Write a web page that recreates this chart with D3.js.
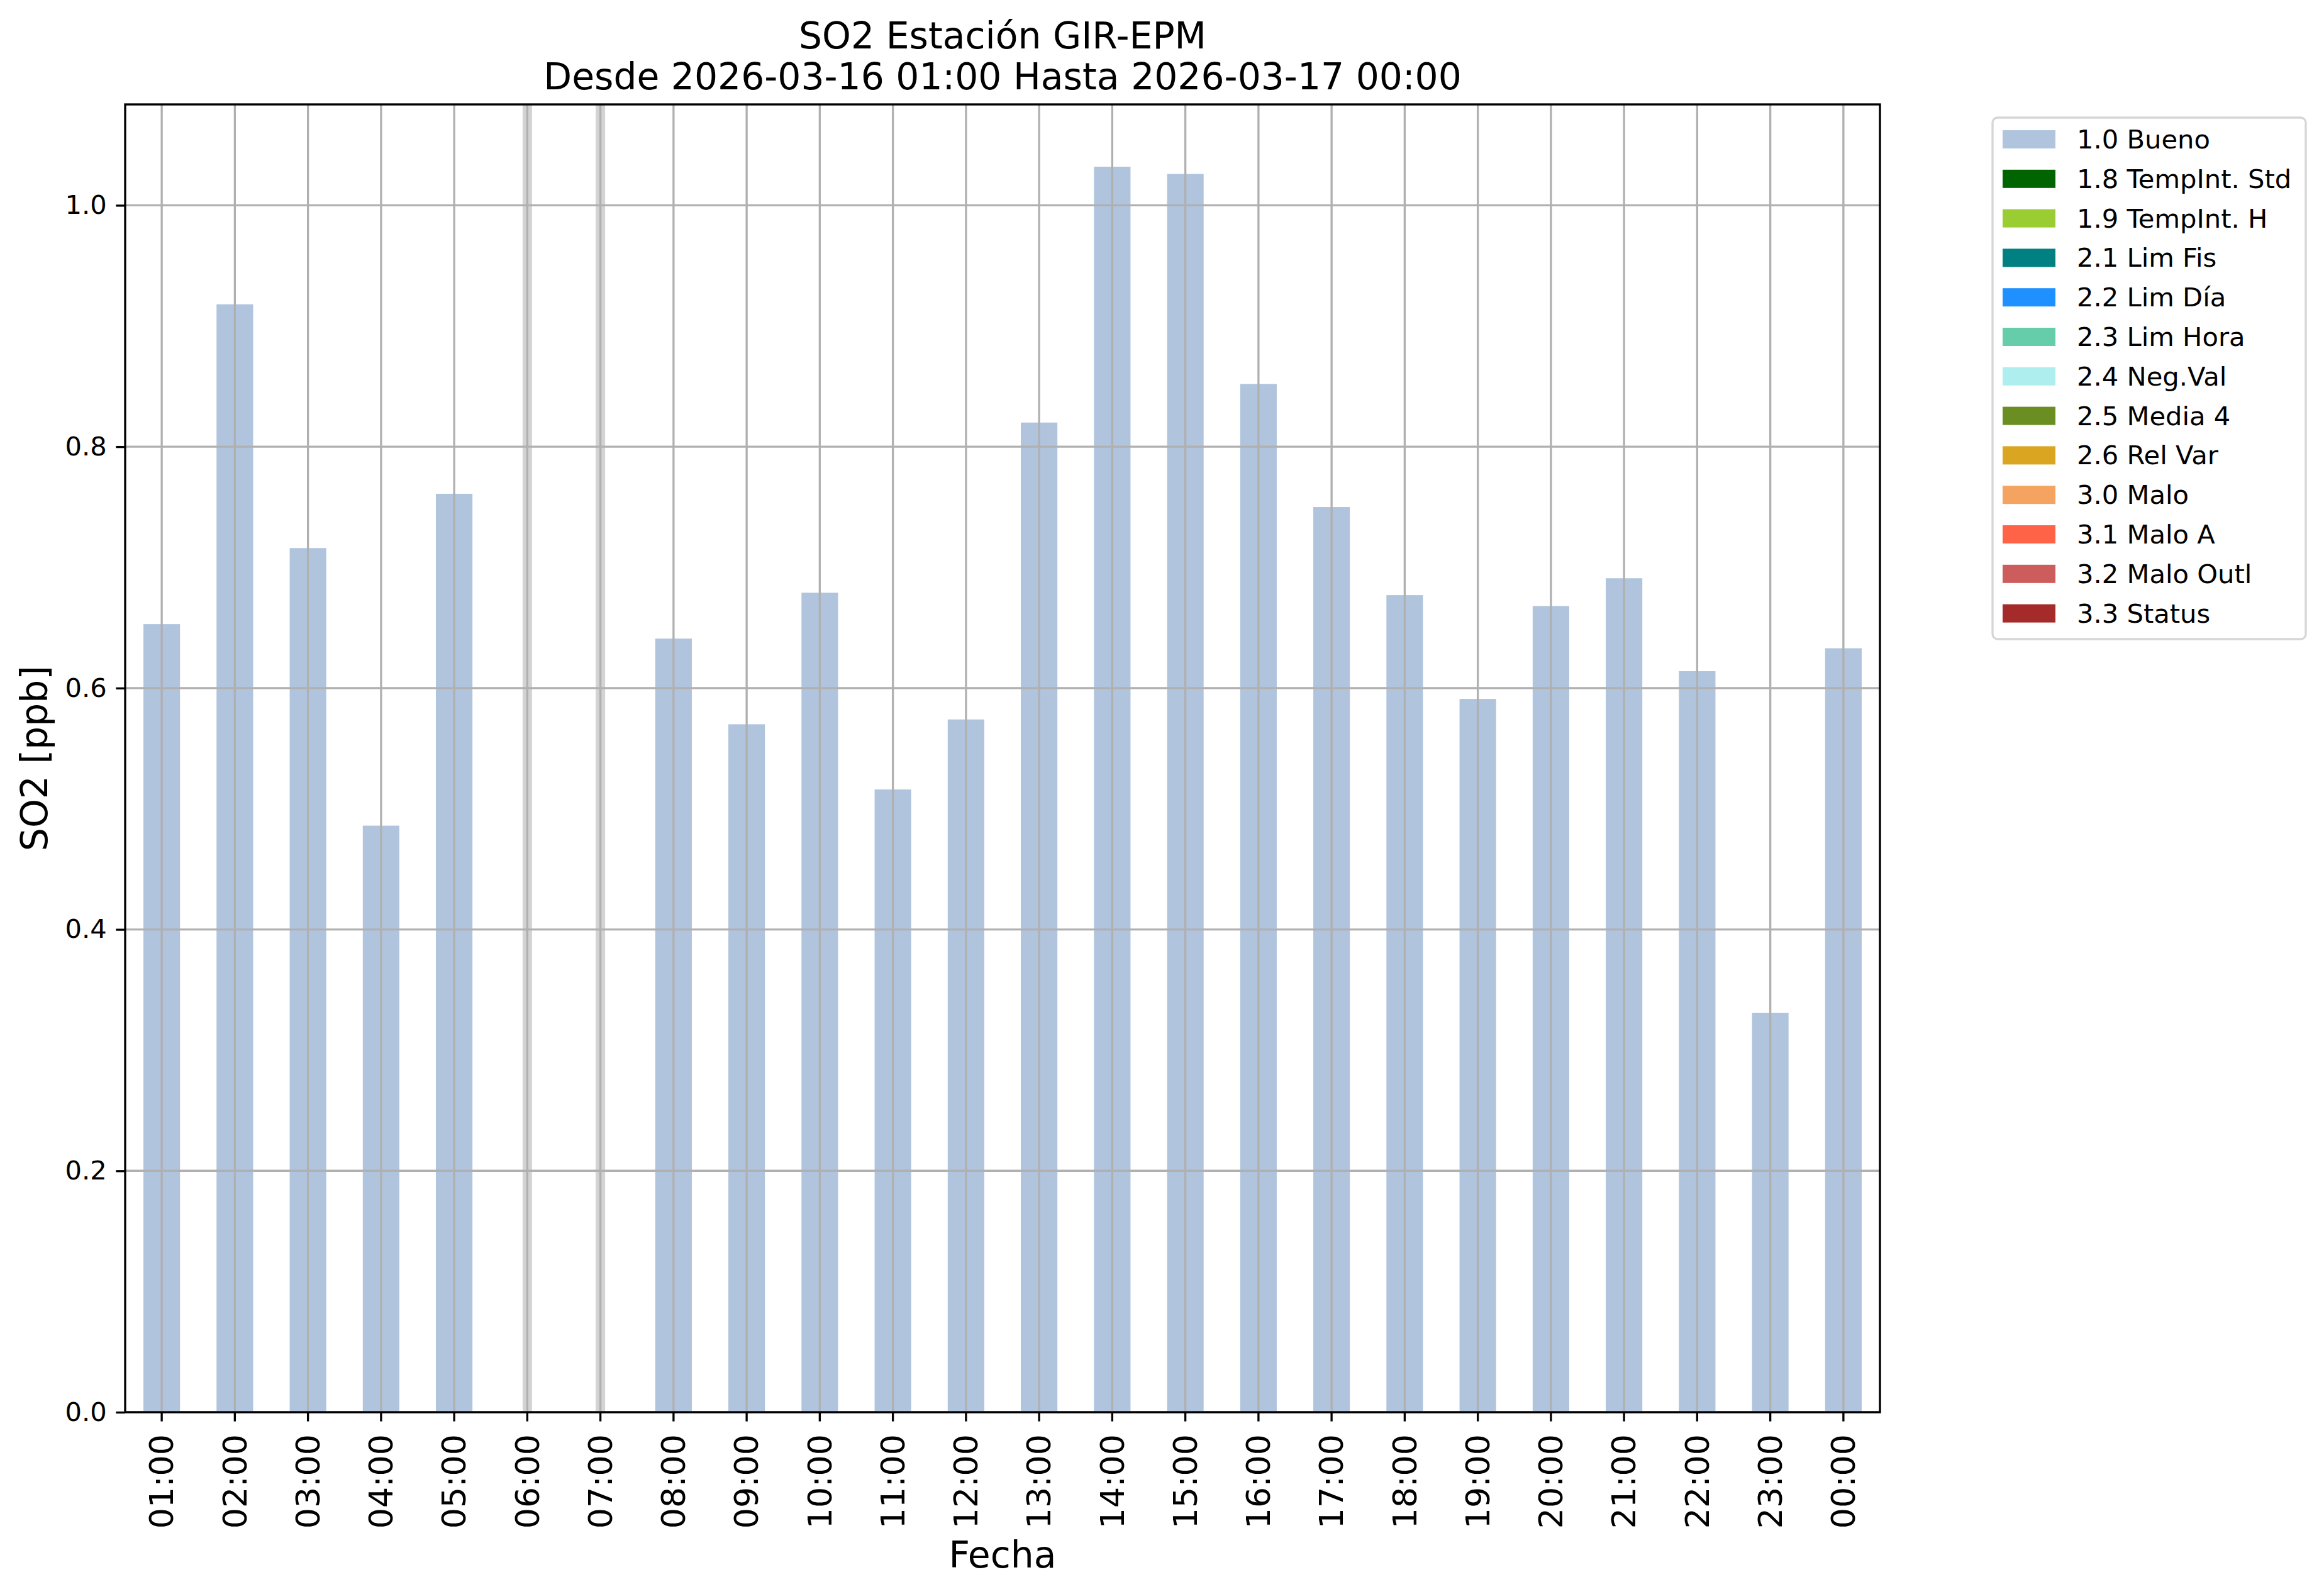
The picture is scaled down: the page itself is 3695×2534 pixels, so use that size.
<!DOCTYPE html>
<html>
<head>
<meta charset="utf-8">
<script src="https://cdn.jsdelivr.net/npm/d3@7"></script>
<style>
  html, body { margin: 0; padding: 0; background: #ffffff; }
  svg { display: block; }
  text { font-family: "DejaVu Sans", sans-serif; fill: #000; }
</style>
</head>
<body>
<script>
// ---- Data ----
const hours = ["01:00","02:00","03:00","04:00","05:00","06:00","07:00","08:00","09:00","10:00","11:00","12:00",
               "13:00","14:00","15:00","16:00","17:00","18:00","19:00","20:00","21:00","22:00","23:00","00:00"];
const so2Values = [0.653, 0.918, 0.716, 0.486, 0.761, null, null, 0.641, 0.570, 0.679, 0.516, 0.574,
                   0.820, 1.032, 1.026, 0.852, 0.750, 0.677, 0.591, 0.668, 0.691, 0.614, 0.331, 0.633];
const yTicks = [0.0, 0.2, 0.4, 0.6, 0.8, 1.0];
const legendLabels = ["1.0 Bueno","1.8 TempInt. Std","1.9 TempInt. H","2.1 Lim Fis","2.2 Lim Día","2.3 Lim Hora",
                      "2.4 Neg.Val","2.5 Media 4","2.6 Rel Var","3.0 Malo","3.1 Malo A","3.2 Malo Outl","3.3 Status"];
const legendColors = ["#b0c4de","#006400","#9acd32","#008080","#1e90ff","#66cdaa",
                      "#afeeee","#6b8e23","#daa520","#f4a460","#ff6347","#cd5c5c","#a52a2a"];
const titleLines = ["SO2 Estación GIR-EPM", "Desde 2026-03-16 01:00 Hasta 2026-03-17 00:00"];
const yLabel = "SO2 [ppb]";
const xLabel = "Fecha";

// ---- Layout ----
const W = 3695, H = 2534;
const plot = { left: 199, right: 2989, top: 166, bottom: 2245 };
const pt = 300 / 72;
const lw = 0.8 * pt;

const svg = d3.select("body").append("svg").attr("width", W).attr("height", H);
svg.append("rect").attr("width", W).attr("height", H).attr("fill", "#fff");

const x = d3.scaleBand().domain(hours).range([plot.left, plot.right]).paddingInner(0.5).paddingOuter(0.25);
const yMax = d3.max(so2Values) * 1.05;
const y = d3.scaleLinear().domain([0, yMax]).range([plot.bottom, plot.top]);

const data = hours.map((h, i) => ({ h, v: so2Values[i] }));

// bars
svg.append("g").selectAll("rect").data(data.filter(d => d.v !== null)).join("rect")
  .attr("x", d => x(d.h)).attr("width", x.bandwidth())
  .attr("y", d => y(d.v)).attr("height", d => y(0) - y(d.v))
  .attr("fill", legendColors[0]);

// missing-data bands
svg.append("g").selectAll("rect").data(data.filter(d => d.v === null)).join("rect")
  .attr("x", d => x(d.h) + x.bandwidth() / 2 - 7.5).attr("width", 15)
  .attr("y", plot.top).attr("height", plot.bottom - plot.top)
  .attr("fill", "#d3d3d3");

// grid
const grid = svg.append("g").attr("stroke", "#b0b0b0").attr("stroke-width", lw);
grid.selectAll("line.v").data(hours).join("line").attr("class", "v")
  .attr("x1", d => x(d) + x.bandwidth() / 2).attr("x2", d => x(d) + x.bandwidth() / 2)
  .attr("y1", plot.top).attr("y2", plot.bottom);
grid.selectAll("line.h").data(yTicks).join("line").attr("class", "h")
  .attr("x1", plot.left).attr("x2", plot.right)
  .attr("y1", d => y(d)).attr("y2", d => y(d));

// axes
const xAxis = d3.axisBottom(x).tickSize(3.5 * pt).tickPadding(0);
const gx = svg.append("g").attr("transform", `translate(0,${plot.bottom})`).call(xAxis);
gx.select(".domain").remove();
gx.selectAll(".tick line").attr("stroke", "#000").attr("stroke-width", lw);
gx.selectAll(".tick text")
  .attr("font-size", 12.5 * pt).attr("font-family", "DejaVu Sans")
  .attr("transform", "rotate(-90)")
  .attr("x", -(3.5 * pt + 3.5 * pt + 6)).attr("y", 0).attr("dy", "0.35em")
  .attr("text-anchor", "end").attr("fill", "#000");

const yAxis = d3.axisLeft(y).tickValues(yTicks).tickFormat(d3.format(".1f")).tickSize(3.5 * pt).tickPadding(3.5 * pt);
const gy = svg.append("g").attr("transform", `translate(${plot.left},0)`).call(yAxis);
gy.select(".domain").remove();
gy.selectAll(".tick line").attr("stroke", "#000").attr("stroke-width", lw);
gy.selectAll(".tick text").attr("font-size", 10 * pt).attr("font-family", "DejaVu Sans").attr("fill", "#000");

// frame
svg.append("rect").attr("x", plot.left).attr("y", plot.top)
  .attr("width", plot.right - plot.left).attr("height", plot.bottom - plot.top)
  .attr("fill", "none").attr("stroke", "#000").attr("stroke-width", lw);

// title
const cx = (plot.left + plot.right) / 2;
svg.append("text").attr("x", cx).attr("y", 77).attr("text-anchor", "middle").attr("font-size", 14 * pt).text(titleLines[0]);
svg.append("text").attr("x", cx).attr("y", 142).attr("text-anchor", "middle").attr("font-size", 14 * pt).text(titleLines[1]);

// axis labels
svg.append("text").attr("transform", `translate(75,${(plot.top + plot.bottom) / 2}) rotate(-90)`)
  .attr("text-anchor", "middle").attr("font-size", 14 * pt).text(yLabel);
svg.append("text").attr("x", cx).attr("y", 2492).attr("text-anchor", "middle").attr("font-size", 14 * pt).text(xLabel);

// legend
const lg = svg.append("g");
lg.append("rect").attr("x", 3168).attr("y", 187).attr("width", 498).attr("height", 829)
  .attr("rx", 8).attr("fill", "#fff").attr("stroke", "#d6d6d6").attr("stroke-width", lw);
const rows = lg.selectAll("g.row").data(legendLabels).join("g").attr("class", "row")
  .attr("transform", (d, i) => `translate(0,${236 + i * 62.8})`);
rows.append("rect").attr("x", 3184).attr("y", -29).attr("width", 84).attr("height", 29)
  .attr("fill", (d, i) => legendColors[i]);
rows.append("text").attr("x", 3302).attr("y", 0).attr("font-size", 10 * pt).text(d => d);
</script>
</body>
</html>
